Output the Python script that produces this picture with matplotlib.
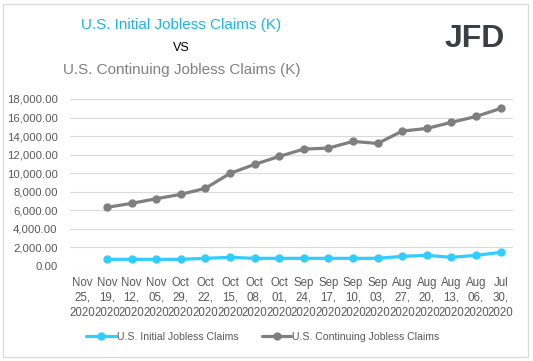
import numpy as np
import matplotlib
matplotlib.use("Agg")
import matplotlib.pyplot as plt
from matplotlib.patches import Rectangle

categories = ["Nov\n25,\n2020", "Nov\n19,\n2020", "Nov\n12,\n2020", "Nov\n05,\n2020",
              "Oct\n29,\n2020", "Oct\n22,\n2020", "Oct\n15,\n2020", "Oct\n08,\n2020",
              "Oct\n01,\n2020", "Sep\n24,\n2020", "Sep\n17,\n2020", "Sep\n10,\n2020",
              "Sep\n03,\n2020", "Aug\n27,\n2020", "Aug\n20,\n2020", "Aug\n13,\n2020",
              "Aug\n06,\n2020", "Jul\n30,\n2020"]
initial = [np.nan, 720, 720, 720, 720, 826, 934, 826, 826, 826, 826, 826, 830,
           1041, 1149, 934, 1149, 1472]
continuing = [np.nan, 6320, 6750, 7250, 7720, 8370, 9980, 10950, 11810, 12600,
              12710, 13430, 13210, 14540, 14830, 15480, 16120, 16980]
yticks = [0, 2000, 4000, 6000, 8000, 10000, 12000, 14000, 16000, 18000]

plt.rcParams['font.family'] = ['Liberation Sans', 'DejaVu Sans']

W, H = 533, 361
fig = plt.figure(figsize=(W / 100, H / 100), dpi=100)
fig.patch.set_facecolor('white')

# outer border
fig.add_artist(Rectangle((3 / W, 1 - 357 / H), 525 / W, 353 / H, transform=fig.transFigure,
                         fill=False, edgecolor='#D9D9D9', linewidth=0.9))

ax = fig.add_axes([70 / W, 1 - 266 / H, 443 / W, 167 / H])
x = np.arange(len(categories))
cyan = '#33CCFF'
gray = '#7F7F7F'
ax.plot(x, initial, color=cyan, lw=2.3, marker='o', ms=5, label='U.S. Initial Jobless Claims',
        solid_capstyle='round', zorder=3)
ax.plot(x, continuing, color=gray, lw=2.3, marker='o', ms=5, label='U.S. Continuing Jobless Claims',
        solid_capstyle='round', zorder=3)

ax.set_xlim(-0.5, len(categories) - 0.5)
ax.set_ylim(0, 18000)
ax.set_yticks(yticks)
ax.set_yticklabels([f"{v:,.2f}" for v in yticks])
ax.set_xticks(x)
ax.set_xticklabels(categories, linespacing=1.3)
ax.tick_params(axis='both', length=0, labelcolor='#595959')
ax.tick_params(axis='x', pad=8, labelsize=8.3)
ax.tick_params(axis='y', pad=9, labelsize=8.2)
for s in ax.spines.values():
    s.set_visible(False)
ax.grid(axis='y', color='#D9D9D9', lw=0.8)
ax.set_axisbelow(True)

leg = fig.legend(loc='center', bbox_to_anchor=(263 / W, 1 - 337 / H), ncol=2, frameon=False,
                 fontsize=7.6, handlelength=2.8, columnspacing=2.2, handletextpad=0.1)
for t in leg.get_texts():
    t.set_color('#595959')

fig.text(181 / W, 1 - 25 / H, "U.S. Initial Jobless Claims (K)", ha='center', va='center',
         fontsize=11, color='#1DB4E4')
fig.text(181 / W, 1 - 48 / H, "VS", ha='center', va='center', fontsize=9, color='black')
fig.text(182 / W, 1 - 70 / H, "U.S. Continuing Jobless Claims (K)", ha='center', va='center',
         fontsize=11, color='#808080')
fig.text(475 / W, 1 - 39 / H, "JFD", ha='center', va='center', fontsize=23, fontweight='bold',
         color='#3A3F46')

fig.savefig('out.png', dpi=100, facecolor='white')
